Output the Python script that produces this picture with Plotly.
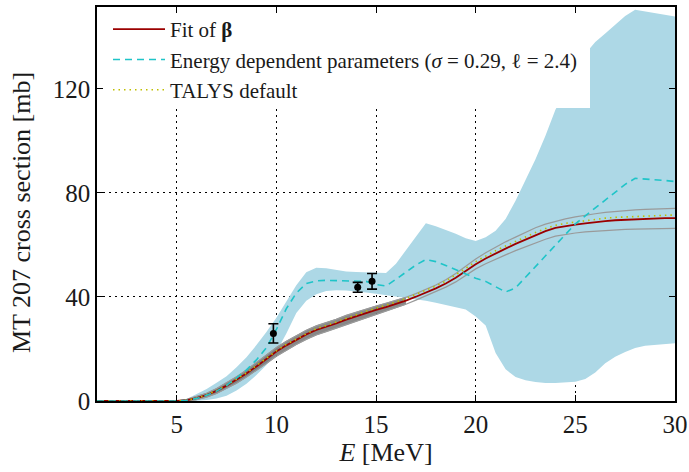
import plotly.graph_objects as go

# Incident energy grid [MeV]
energy = [1, 5, 5.5, 6, 6.5, 7, 7.5, 8, 8.5, 9, 9.5, 10, 10.5, 11, 11.5, 12, 12.5,
          13, 13.5, 14, 14.5, 15, 15.5, 16, 16.5, 17, 17.5, 18, 18.5, 19, 19.5, 20,
          20.5, 21, 21.5, 22, 22.5, 23, 23.5, 24, 24.5, 25, 25.5, 26, 26.5, 27,
          27.5, 28, 28.5, 29, 29.5, 30]

# Fit of beta: central curve and sample envelope [mb]
fit_beta = [0, 0, 0.3, 1.1, 2.3, 3.9, 5.9, 8.1, 10.6, 13.3, 16.2, 19.0, 21.4,
            23.5, 25.6, 27.3, 28.5, 29.8, 31.3, 32.6, 33.8, 35.0, 36.1, 37.3,
            38.6, 40.1, 41.6, 43.3, 45.2, 47.4, 50.0, 52.6, 54.8, 56.8, 58.6,
            60.4, 62.1, 63.8, 65.3, 66.6, 67.3, 67.8, 68.3, 68.8, 69.2, 69.5,
            69.7, 69.9, 70.0, 70.2, 70.3, 70.3]
fit_upper = [0, 0, 0.6, 1.7, 3.0, 4.8, 6.9, 9.3, 11.9, 14.8, 17.8, 20.6, 23.0,
             25.1, 27.2, 28.9, 30.1, 31.4, 32.9, 34.2, 35.4, 36.5, 37.6, 38.7,
             39.9, 41.3, 42.8, 44.6, 46.6, 49.0, 51.8, 54.6, 57.0, 59.2, 61.2,
             63.0, 64.8, 66.6, 68.0, 69.1, 70.0, 70.8, 71.5, 72.0, 72.5, 72.9,
             73.2, 73.5, 73.7, 73.9, 74.0, 74.1]
fit_lower = [0, 0, 0.0, 0.5, 1.5, 2.9, 4.8, 6.8, 9.2, 11.7, 14.4, 17.2, 19.6,
             21.7, 23.7, 25.4, 26.7, 28.0, 29.5, 30.8, 32.0, 33.3, 34.5, 35.8,
             37.2, 38.8, 40.4, 42.0, 43.8, 45.8, 48.3, 50.8, 52.8, 54.6, 56.2,
             57.8, 59.3, 60.8, 62.2, 63.4, 64.1, 64.6, 65.0, 65.3, 65.6, 65.8,
             66.0, 66.1, 66.2, 66.3, 66.4, 66.4]

# TALYS default [mb]
talys_default = [0, 0, 0.3, 1.1, 2.4, 4.0, 6.0, 8.3, 10.8, 13.6, 16.5, 19.3,
                 21.8, 23.9, 26.0, 27.8, 29.0, 30.4, 31.9, 33.2, 34.5, 35.7,
                 36.8, 38.0, 39.4, 40.9, 42.5, 44.2, 46.1, 48.4, 51.0, 53.6,
                 55.8, 57.8, 59.6, 61.4, 63.1, 64.8, 66.3, 67.6, 68.3, 68.8,
                 69.4, 69.9, 70.3, 70.6, 70.8, 71.0, 71.1, 71.3, 71.4, 71.5]

# Energy dependent parameters (sigma = 0.29, l = 2.4): mean and band [mb]
edp_mean = [0, 0, 0.3, 1.0, 2.2, 3.8, 6.0, 8.8, 12.0, 15.8, 20.5, 27.5, 35.5,
            41.5, 45.2, 46.2, 46.4, 46.3, 46.3, 46.3, 46.0, 44.8, 44.2, 46.8,
            49.6, 52.3, 54.4, 53.6, 52.1, 50.5, 48.8, 47.2, 46.0, 44.0, 41.9,
            43.5, 47.6, 51.7, 55.8, 59.9, 64.0, 68.1, 71.2, 74.2, 77.2, 80.3,
            83.3, 85.6, 85.4, 85.1, 84.8, 84.4]
edp_upper = [0, 0, 0.8, 2.6, 4.6, 7.0, 9.5, 13.0, 16.8, 21.5, 26.5, 32.0, 38.5,
             44.5, 49.5, 51.2, 51.0, 50.3, 49.8, 49.6, 49.4, 49.3, 49.2, 52.8,
             58.0, 63.5, 68.3, 67.2, 65.8, 64.3, 62.6, 61.5, 63.0, 65.5, 70.0,
             77.0, 85.0, 93.0, 102.0, 112.0, 119.0, 127.0, 133.5, 138.0, 141.3,
             144.6, 148.0, 150.4, 149.8, 149.2, 148.5, 147.8]
edp_lower = [0, 0, 0, 0.1, 0.4, 1.0, 2.0, 4.0, 6.6, 10.0, 13.8, 18.8, 26.0,
             33.8, 38.5, 41.0, 42.3, 42.6, 42.5, 42.2, 41.7, 41.2, 40.7, 40.2,
             39.5, 39.0, 38.5, 37.8, 36.9, 36.0, 35.2, 32.5, 29.0, 18.5, 12.2,
             9.2, 8.0, 7.3, 6.9, 6.9, 7.1, 7.4, 8.5, 11.0, 14.5, 17.0, 18.8,
             20.4, 21.2, 21.6, 21.9, 22.2]

# Measured cross sections
exp_energy = [9.85, 14.08, 14.8]
exp_xs = [26.0, 43.7, 46.0]
exp_err = [3.7, 1.9, 3.0]

# Region where the fit samples overlap into a solid grey band
n_dense = energy.index(16.5) + 1

SERIF = "Liberation Serif"
TEXT = "#1a1a1a"

fig = go.Figure()

# Light blue uncertainty band of the energy dependent parameters
fig.add_trace(go.Scatter(x=energy, y=edp_lower, mode="lines",
                         line=dict(width=0, color="#ADD8E6"),
                         showlegend=False, hoverinfo="skip"))
fig.add_trace(go.Scatter(x=energy, y=edp_upper, mode="lines",
                         line=dict(width=0, color="#ADD8E6"),
                         fill="tonexty", fillcolor="#ADD8E6",
                         showlegend=False, hoverinfo="skip"))

# Grey envelope of the fit samples
fig.add_trace(go.Scatter(x=energy[:n_dense], y=fit_lower[:n_dense], mode="lines",
                         line=dict(width=0.8, color="#8c8c8c"),
                         showlegend=False, hoverinfo="skip"))
fig.add_trace(go.Scatter(x=energy[:n_dense], y=fit_upper[:n_dense], mode="lines",
                         line=dict(width=0.8, color="#8c8c8c"),
                         fill="tonexty", fillcolor="rgba(115,115,115,0.85)",
                         showlegend=False, hoverinfo="skip"))
fig.add_trace(go.Scatter(x=energy, y=fit_upper, mode="lines",
                         line=dict(width=1.2, color="#9a9a9a"),
                         showlegend=False, hoverinfo="skip"))
fig.add_trace(go.Scatter(x=energy, y=fit_lower, mode="lines",
                         line=dict(width=1.2, color="#9a9a9a"),
                         showlegend=False, hoverinfo="skip"))

# Fit of beta
fig.add_trace(go.Scatter(x=energy, y=fit_beta, mode="lines",
                         name="Fit of <b>β</b>", legendrank=1,
                         line=dict(width=1.8, color="#9b0000")))

# TALYS default
fig.add_trace(go.Scatter(x=energy, y=talys_default, mode="lines",
                         name="TALYS default", legendrank=3,
                         line=dict(width=1.6, color="#BFBF00", dash="1.5px,4px")))

# Energy dependent parameters
fig.add_trace(go.Scatter(x=energy, y=edp_mean, mode="lines",
                         name="Energy dependent parameters (<i>σ</i> = 0.29, ℓ = 2.4)",
                         legendrank=2,
                         line=dict(width=1.6, color="#1FC4C8", dash="7px,5px")))

# Experimental data
fig.add_trace(go.Scatter(x=exp_energy, y=exp_xs, mode="markers",
                         marker=dict(size=7, color="black"),
                         error_y=dict(type="data", array=exp_err, visible=True,
                                      color="black", thickness=1.6, width=5),
                         showlegend=False))

axis_common = dict(
    showline=True, linecolor="black", linewidth=1.5, mirror="ticks",
    ticks="inside", ticklen=6, tickwidth=1.3, tickcolor="black",
    showgrid=True, gridcolor="black", gridwidth=1, griddash="2px,4px",
    zeroline=False, automargin=False,
    tickfont=dict(family=SERIF, size=25, color=TEXT),
)

fig.update_xaxes(range=[1, 30], tick0=0, dtick=5,
                 title=dict(text="<i>E</i> [MeV]", standoff=4,
                            font=dict(family=SERIF, size=26, color=TEXT)),
                 **axis_common)
fig.update_yaxes(range=[0, 151.5], tick0=0, dtick=40, **axis_common)

# Plot-area geometry in pixels, used to place the legend box and y title
PLOT_W, PLOT_H = 578, 394

fig.update_layout(
    width=689, height=472,
    margin=dict(l=97, r=14, t=7, b=71),
    paper_bgcolor="white", plot_bgcolor="white",
    showlegend=True,
    legend=dict(x=11 / PLOT_W, y=1 - 2 / PLOT_H, xanchor="left", yanchor="top",
                bgcolor="rgba(0,0,0,0)", borderwidth=0,
                font=dict(family=SERIF, size=21, color=TEXT),
                itemwidth=52, tracegroupgap=0,
                traceorder="normal"),
    # opaque legend frame
    shapes=[dict(type="rect", xref="paper", yref="paper", layer="above",
                 x0=6 / PLOT_W, x1=493 / PLOT_W,
                 y0=1 - 101 / PLOT_H, y1=1 - 6 / PLOT_H,
                 fillcolor="white", line=dict(width=0))],
    annotations=[dict(text="MT 207 cross section [mb]", textangle=-90,
                      xref="paper", yref="paper",
                      x=-76 / PLOT_W, y=1 - 206 / PLOT_H,
                      xanchor="center", yanchor="middle", showarrow=False,
                      font=dict(family=SERIF, size=26, color=TEXT))],
)

fig.write_html("out.html")
